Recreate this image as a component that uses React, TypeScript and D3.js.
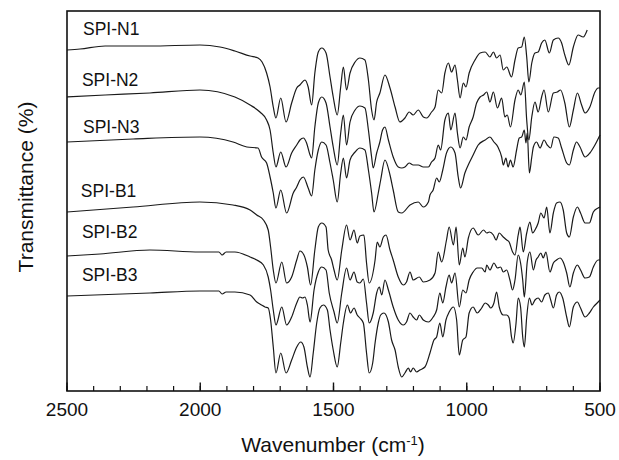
import React from "react";
import * as d3 from "d3";

type Pt = [number, number];

// [wavenumber (cm-1), transmittance (a.u., offset stacked)]
const spiN1: Pt[] = [
  [2500, 34.1], [2451, 34.2], [2357, 34.5], [2189, 34.5], [2001, 34.6], [1926, 34.4], [1870, 34.0],
  [1813, 33.5], [1783, 33.3], [1768, 32.9], [1751, 31.8], [1738, 30.4], [1726, 28.4], [1716, 27.3],
  [1698, 29.3], [1678, 26.9], [1657, 28.8], [1638, 30.3], [1626, 30.6], [1607, 31.1], [1595, 30.4],
  [1582, 28.6], [1570, 31.8], [1557, 33.9], [1544, 34.3], [1528, 33.8], [1513, 31.4], [1501, 29.4],
  [1486, 27.6], [1473, 30.4], [1463, 32.4], [1451, 30.1], [1438, 31.8], [1419, 32.9], [1401, 33.3],
  [1382, 33.1], [1369, 31.1], [1357, 28.1], [1348, 27.1], [1338, 28.9], [1326, 29.8], [1307, 31.6],
  [1288, 30.3], [1269, 28.4], [1251, 26.9], [1232, 27.3], [1216, 27.9], [1201, 27.6], [1182, 28.1],
  [1163, 27.4], [1150, 27.3], [1132, 27.9], [1119, 28.4], [1107, 30.1], [1094, 29.8], [1082, 31.8],
  [1069, 32.8], [1057, 31.9], [1044, 32.6], [1035, 31.1], [1025, 29.3], [1013, 30.8], [1003, 30.4],
  [991, 31.8], [969, 33.1], [950, 33.8], [931, 33.9], [913, 33.4], [900, 33.9], [888, 33.3],
  [875, 33.6], [863, 32.1], [850, 32.4], [832, 31.4], [819, 33.1], [807, 34.3], [794, 34.4],
  [784, 35.4], [775, 33.4], [767, 30.9], [756, 32.8], [744, 33.8], [732, 33.9], [719, 34.8],
  [707, 35.1], [690, 33.8], [675, 35.1], [657, 35.3], [644, 34.8], [632, 33.6], [617, 32.6],
  [600, 34.4], [582, 35.6], [563, 35.4], [548, 36.1],
];

const spiN2: Pt[] = [
  [2500, 29.4], [2357, 29.6], [2189, 29.8], [2001, 30.1], [1870, 29.4], [1813, 28.6], [1776, 27.9],
  [1751, 27.1], [1738, 26.1], [1726, 23.8], [1716, 22.4], [1698, 23.9], [1678, 22.4], [1657, 23.8],
  [1638, 24.6], [1626, 25.1], [1613, 25.3], [1601, 24.8], [1588, 23.6], [1582, 23.3], [1570, 26.4],
  [1557, 28.8], [1544, 29.4], [1528, 28.8], [1513, 26.4], [1501, 24.4], [1486, 22.6], [1473, 25.8],
  [1463, 27.6], [1451, 24.6], [1438, 26.9], [1419, 28.1], [1401, 28.5], [1382, 28.3], [1369, 26.1],
  [1357, 23.4], [1351, 22.3], [1338, 23.8], [1326, 24.9], [1316, 26.1], [1307, 26.4], [1294, 25.1],
  [1276, 23.4], [1257, 22.4], [1244, 22.3], [1232, 22.4], [1216, 22.8], [1201, 22.6], [1182, 22.6],
  [1163, 22.4], [1144, 22.4], [1132, 22.9], [1119, 23.3], [1107, 24.6], [1098, 24.1], [1082, 27.1],
  [1069, 27.8], [1060, 26.1], [1044, 27.8], [1035, 25.8], [1025, 24.3], [1013, 25.4], [1003, 25.1],
  [991, 26.4], [976, 27.4], [963, 28.8], [950, 29.4], [937, 29.6], [925, 29.9], [913, 28.9],
  [900, 29.9], [885, 28.3], [869, 29.3], [857, 27.4], [848, 27.6], [836, 26.4], [819, 29.1],
  [807, 30.1], [797, 29.6], [784, 30.9], [775, 27.1], [767, 25.1], [756, 27.4], [744, 28.9],
  [732, 27.9], [719, 29.4], [710, 30.1], [694, 27.9], [675, 29.8], [660, 29.9], [648, 30.1],
  [632, 28.8], [615, 26.4], [600, 28.1], [585, 29.8], [569, 28.6], [556, 27.8], [538, 28.4],
  [519, 29.9], [507, 30.3], [500, 30.3],
];

const spiN3: Pt[] = [
  [2500, 24.9], [2252, 25.2], [2001, 25.4], [1877, 24.9], [1825, 24.4], [1783, 24.3], [1770, 23.4],
  [1751, 22.8], [1738, 21.4], [1726, 19.8], [1716, 18.3], [1698, 20.1], [1676, 17.8], [1651, 19.8],
  [1638, 20.4], [1626, 21.1], [1613, 21.4], [1595, 20.3], [1582, 19.5], [1570, 22.1], [1557, 24.1],
  [1544, 24.9], [1528, 24.6], [1513, 22.8], [1501, 21.1], [1486, 18.9], [1473, 21.8], [1463, 23.3],
  [1451, 21.3], [1438, 23.1], [1419, 23.9], [1401, 24.3], [1382, 24.1], [1369, 22.1], [1357, 19.8],
  [1348, 17.9], [1332, 19.8], [1323, 21.1], [1307, 23.1], [1288, 21.6], [1276, 20.1], [1257, 17.9],
  [1244, 17.8], [1213, 18.6], [1182, 18.9], [1163, 18.4], [1144, 18.9], [1138, 19.6], [1126, 20.1],
  [1113, 21.3], [1103, 20.9], [1090, 22.1], [1076, 23.8], [1060, 24.4], [1044, 23.8], [1032, 21.4],
  [1023, 20.3], [1007, 21.8], [991, 22.8], [976, 23.6], [957, 24.6], [931, 25.1], [913, 25.4],
  [898, 24.9], [883, 24.4], [869, 23.4], [863, 22.6], [853, 23.3], [845, 22.4], [836, 23.1],
  [826, 22.4], [813, 24.1], [803, 25.3], [794, 25.4], [784, 26.1], [778, 24.8], [773, 25.8],
  [765, 21.8], [756, 23.4], [750, 24.4], [738, 24.9], [725, 24.3], [710, 25.1], [698, 24.6],
  [685, 24.3], [673, 25.4], [657, 25.3], [644, 24.3], [625, 22.8], [615, 22.6], [600, 24.1],
  [588, 24.9], [575, 24.4], [556, 23.4], [538, 23.8], [519, 24.6], [500, 25.6],
];

const spiB1: Pt[] = [
  [2500, 17.9], [2252, 18.4], [2001, 18.9], [1877, 18.6], [1813, 18.1], [1788, 17.6], [1763, 17.1],
  [1745, 16.1], [1736, 14.4], [1726, 12.1], [1716, 10.8], [1694, 12.9], [1676, 10.8], [1657, 11.4],
  [1638, 13.1], [1626, 14.0], [1611, 13.6], [1598, 12.4], [1586, 10.6], [1570, 14.1], [1557, 16.4],
  [1544, 16.8], [1528, 16.4], [1520, 14.1], [1507, 13.1], [1498, 12.1], [1486, 11.1], [1469, 14.1],
  [1451, 16.6], [1438, 15.1], [1423, 16.1], [1411, 14.8], [1401, 15.5], [1386, 15.6], [1376, 12.8],
  [1366, 10.8], [1344, 13.1], [1336, 14.9], [1326, 14.4], [1313, 15.4], [1303, 15.6], [1288, 14.1],
  [1276, 13.1], [1257, 11.4], [1238, 10.6], [1226, 10.9], [1213, 11.9], [1201, 11.1], [1178, 11.4],
  [1163, 10.9], [1138, 11.1], [1119, 11.8], [1107, 13.9], [1094, 12.9], [1076, 15.1], [1066, 16.4],
  [1050, 14.6], [1040, 16.4], [1028, 12.6], [1015, 14.3], [1007, 13.4], [994, 15.3], [976, 16.3],
  [957, 15.6], [937, 16.1], [925, 15.8], [915, 15.9], [900, 15.6], [890, 15.1], [878, 15.8],
  [863, 15.4], [850, 15.1], [841, 14.9], [828, 13.9], [819, 13.6], [807, 15.6], [800, 16.4],
  [788, 13.9], [775, 15.8], [763, 16.9], [753, 15.8], [744, 16.1], [732, 16.8], [722, 17.8],
  [710, 17.3], [700, 18.4], [688, 15.8], [675, 17.8], [663, 18.8], [650, 18.9], [638, 18.1],
  [625, 15.8], [615, 15.4], [600, 17.4], [585, 18.4], [573, 17.8], [556, 16.8], [540, 16.8],
  [525, 17.9], [507, 18.3], [500, 18.4],
];

const spiB2: Pt[] = [
  [2500, 13.5], [2376, 13.7], [2189, 14.1], [2001, 13.9], [1930, 13.9], [1918, 13.6], [1903, 13.9],
  [1870, 13.9], [1813, 13.4], [1788, 13.1], [1763, 12.6], [1745, 11.4], [1736, 10.1], [1726, 8.1],
  [1716, 6.6], [1694, 8.4], [1676, 6.6], [1657, 7.4], [1638, 8.8], [1626, 9.4], [1616, 9.3],
  [1607, 9.4], [1598, 8.6], [1588, 6.9], [1573, 10.1], [1557, 11.9], [1544, 12.4], [1528, 12.1],
  [1516, 9.8], [1498, 7.9], [1486, 6.8], [1469, 9.8], [1451, 12.3], [1438, 11.1], [1423, 11.9],
  [1411, 10.9], [1401, 10.8], [1388, 11.2], [1376, 8.8], [1366, 6.8], [1351, 7.8], [1338, 9.8],
  [1328, 10.4], [1319, 9.6], [1307, 11.1], [1294, 10.1], [1276, 8.4], [1257, 7.1], [1238, 6.6],
  [1226, 6.9], [1213, 7.8], [1201, 7.4], [1188, 7.1], [1178, 7.6], [1163, 7.1], [1144, 6.9],
  [1126, 7.4], [1113, 8.1], [1101, 9.8], [1090, 8.8], [1078, 10.4], [1066, 11.6], [1057, 10.8],
  [1044, 11.8], [1028, 8.4], [1015, 10.1], [1003, 9.8], [991, 11.1], [976, 11.9], [961, 12.3],
  [944, 12.3], [931, 11.9], [925, 12.6], [913, 12.1], [898, 12.8], [885, 12.3], [873, 12.4],
  [863, 11.9], [850, 12.1], [838, 11.1], [828, 10.1], [819, 11.1], [807, 13.6], [798, 12.8],
  [790, 11.1], [784, 9.4], [773, 12.9], [763, 13.9], [750, 12.1], [740, 13.1], [732, 13.4],
  [722, 13.8], [713, 13.3], [703, 13.9], [688, 11.9], [675, 12.8], [663, 13.1], [650, 13.3],
  [638, 12.9], [625, 11.8], [613, 10.4], [600, 11.8], [585, 12.6], [573, 12.1], [556, 11.3],
  [540, 11.4], [525, 12.4], [507, 13.1], [500, 13.1],
];

const spiB3: Pt[] = [
  [2500, 9.5], [2189, 9.8], [2001, 10.0], [1930, 10.0], [1918, 9.7], [1903, 9.9], [1870, 9.9],
  [1813, 9.6], [1788, 8.9], [1770, 8.6], [1757, 8.4], [1745, 8.3], [1736, 7.1], [1726, 4.4],
  [1716, 1.8], [1698, 3.8], [1678, 1.8], [1657, 3.1], [1638, 4.4], [1623, 4.9], [1611, 4.4],
  [1598, 2.4], [1588, 1.4], [1576, 3.8], [1563, 6.8], [1551, 8.3], [1538, 8.6], [1523, 8.1],
  [1513, 6.1], [1501, 4.1], [1486, 2.4], [1473, 4.8], [1463, 6.8], [1448, 8.6], [1436, 7.8],
  [1423, 8.3], [1411, 7.6], [1401, 7.3], [1388, 6.8], [1376, 3.8], [1366, 1.8], [1353, 2.8],
  [1344, 4.8], [1332, 6.8], [1323, 7.6], [1311, 7.8], [1294, 6.9], [1282, 5.1], [1269, 4.1],
  [1257, 2.4], [1244, 1.4], [1232, 1.8], [1219, 2.3], [1211, 1.9], [1201, 2.3], [1188, 1.9],
  [1176, 2.1], [1157, 2.4], [1138, 3.8], [1123, 5.1], [1113, 5.4], [1101, 6.8], [1090, 5.4],
  [1078, 7.1], [1066, 7.9], [1050, 8.4], [1038, 7.1], [1028, 3.6], [1015, 5.1], [1003, 5.4],
  [991, 7.8], [976, 8.4], [961, 7.8], [944, 8.3], [931, 8.8], [919, 8.6], [910, 8.3],
  [898, 8.8], [888, 9.9], [878, 8.4], [863, 7.6], [850, 7.6], [841, 7.3], [832, 5.4],
  [826, 4.8], [815, 6.8], [807, 9.3], [798, 8.4], [790, 5.4], [784, 4.4], [775, 7.4],
  [765, 9.3], [755, 8.6], [744, 9.1], [732, 9.3], [719, 8.9], [707, 9.6], [694, 9.8],
  [685, 9.1], [675, 8.3], [663, 9.6], [653, 9.9], [640, 9.3], [625, 7.4], [615, 6.4],
  [600, 8.4], [585, 8.9], [573, 8.3], [556, 7.4], [540, 7.8], [525, 8.4], [507, 8.9], [500, 9.1],
];

const seriesNames = ["SPI-N1", "SPI-N2", "SPI-N3", "SPI-B1", "SPI-B2", "SPI-B3"];
const seriesData = [spiN1, spiN2, spiN3, spiB1, spiB2, spiB3];
// label anchor: [wavenumber, transmittance]
const labelAnchors: Pt[] = [
  [2440, 35.6], [2444, 30.5], [2440, 25.8], [2448, 19.4], [2444, 15.3], [2444, 11.0],
];

const majorTicks = [2500, 2000, 1500, 1000, 500];
const minorTicks = d3.range(2500, 499, -100);

export default function App() {
  const W = 619;
  const H = 460;
  const left = 67, right = 600, top = 11, bottom = 391;
  const x = d3.scaleLinear().domain([2500, 500]).range([left, right]);
  const y = d3.scaleLinear().domain([0, 38]).range([bottom, top]);
  const line = d3
    .line<Pt>()
    .x((d) => x(d[0]))
    .y((d) => y(d[1]))
    .curve(d3.curveMonotoneX);
  const font = "Arial, 'Liberation Sans', Helvetica, sans-serif";

  return (
    <svg
      width={W}
      height={H}
      viewBox={`0 0 ${W} ${H}`}
      style={{ position: "absolute", left: 0, top: 0, background: "#fff" }}
    >
      <rect x={0} y={0} width={W} height={H} fill="#fff" />
      {seriesData.map((d, i) => (
        <path key={i} d={line(d) || ""} fill="none" stroke="#1a1a1a" strokeWidth={1.2} strokeLinejoin="round" />
      ))}
      {seriesNames.map((n, i) => (
        <text
          key={n}
          x={x(labelAnchors[i][0])}
          y={y(labelAnchors[i][1])}
          fontFamily={font}
          fontSize={17.5}
          fill="#111"
        >
          {n}
        </text>
      ))}
      {minorTicks.map((t) => (
        <line key={"m" + t} x1={x(t)} x2={x(t)} y1={bottom} y2={bottom - 5} stroke="#111" strokeWidth={1.2} />
      ))}
      {majorTicks.map((t) => (
        <g key={"M" + t}>
          <line x1={x(t)} x2={x(t)} y1={bottom} y2={bottom - 8.5} stroke="#111" strokeWidth={1.4} />
          <text x={x(t)} y={416} textAnchor="middle" fontFamily={font} fontSize={19} fill="#111">
            {t}
          </text>
        </g>
      ))}
      <rect x={left} y={top} width={right - left} height={bottom - top} fill="none" stroke="#111" strokeWidth={1.6} />
      <text x={333} y={452} textAnchor="middle" fontFamily={font} fontSize={21} fill="#111">
        Wavenumber (cm
        <tspan baselineShift="super" fontSize={13}>-1</tspan>
        )
      </text>
      <text
        transform="translate(33,187) rotate(-90)"
        textAnchor="middle"
        fontFamily={font}
        fontSize={21}
        fill="#111"
      >
        Transmittance (%)
      </text>
    </svg>
  );
}
